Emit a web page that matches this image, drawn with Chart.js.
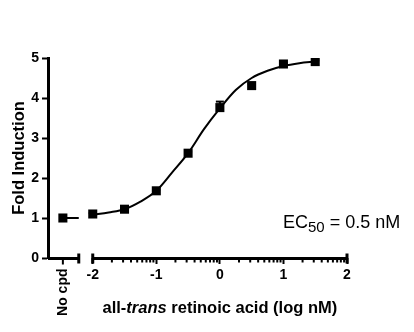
<!DOCTYPE html>
<html>
<head>
<meta charset="utf-8">
<script src="https://cdn.jsdelivr.net/npm/chart.js@4"></script>
<style>
  body { margin: 0; background: #fff; }
  canvas { display: block; }
</style>
</head>
<body>
<canvas id="doseChart" width="414" height="332"></canvas>
<script>
// measured points (log nM vs fold induction)
const concLog = [-2, -1.5, -1, -0.5, 0, 0.5, 1, 1.5];
const foldInduction = [1.1, 1.22, 1.68, 2.62, 3.76, 4.31, 4.85, 4.91];
const foldError = [0.02, 0.03, 0.03, 0.04, 0.15, 0.05, 0.03, 0.03];

// "No cpd" control, drawn left of the axis break
const noCpdX = [-2.47, -2.22];
const noCpdValue = [1.0, 1.0];

// fitted curve
const fitLog = [-2, -1.75, -1.5, -1.25, -1, -0.75, -0.5, -0.25, 0, 0.25, 0.5, 0.75, 1, 1.25, 1.5];
const fitValue = [1.08, 1.14, 1.22, 1.41, 1.68, 2.14, 2.62, 3.22, 3.74, 4.2, 4.5, 4.68, 4.8, 4.87, 4.91];

const xTicks = [-2, -1, 0, 1, 2];
const yTicks = [0, 1, 2, 3, 4, 5];
const breakEnd = -2.22;

const FONT = "'Liberation Sans', Arial, sans-serif";

function toPoints(xs, ys) {
  return xs.map((v, i) => ({ x: v, y: ys[i] }));
}

function strokeLine(ctx, x1, y1, x2, y2) {
  ctx.beginPath();
  ctx.moveTo(x1, y1);
  ctx.lineTo(x2, y2);
  ctx.stroke();
}

// broken x axis, minor ticks, error bars and all the titles
const axisDecor = {
  id: 'axisDecor',
  afterDraw(chart) {
    const { ctx, scales: { x, y } } = chart;
    const base = y.getPixelForValue(0) + 0.5;
    ctx.save();
    ctx.strokeStyle = '#000';
    ctx.fillStyle = '#000';

    // axis segments
    ctx.lineWidth = 3;
    strokeLine(ctx, x.left, base, x.getPixelForValue(breakEnd), base);
    strokeLine(ctx, x.getPixelForValue(-2), base, x.getPixelForValue(2), base);
    [breakEnd, -2, 2].forEach(v => {
      const p = x.getPixelForValue(v);
      strokeLine(ctx, p, base - 5, p, base + 5);
    });

    // log minor ticks
    ctx.lineWidth = 2;
    for (let d = -2; d < 2; d++) {
      for (let k = 2; k <= 9; k++) {
        const p = x.getPixelForValue(d + Math.log10(k));
        strokeLine(ctx, p, base, p, base + 4);
      }
    }

    // no cpd tick + label
    const nx = x.getPixelForValue(noCpdX[0]);
    strokeLine(ctx, nx, base, nx, base + 6);
    ctx.save();
    ctx.translate(nx, base + 10);
    ctx.rotate(-Math.PI / 2);
    ctx.font = 'bold 14px ' + FONT;
    ctx.textAlign = 'right';
    ctx.textBaseline = 'middle';
    ctx.fillText('No cpd', 0, 0);
    ctx.restore();

    // error bars
    ctx.lineWidth = 2;
    concLog.forEach((v, i) => {
      const px = x.getPixelForValue(v);
      const top = y.getPixelForValue(foldInduction[i] + foldError[i]);
      const mid = y.getPixelForValue(foldInduction[i]);
      strokeLine(ctx, px, mid, px, top);
      strokeLine(ctx, px - 4, top, px + 4, top);
    });

    // y title
    ctx.save();
    ctx.translate(19, (y.top + y.bottom) / 2);
    ctx.rotate(-Math.PI / 2);
    ctx.font = 'bold 16.5px ' + FONT;
    ctx.textAlign = 'center';
    ctx.textBaseline = 'middle';
    ctx.fillText('Fold Induction', 0, 0);
    ctx.restore();

    // x title with italic "trans"
    const parts = [
      ['all-', 'bold 16.5px ' + FONT],
      ['trans', 'italic bold 16.5px ' + FONT],
      [' retinoic acid (log nM)', 'bold 16.5px ' + FONT],
    ];
    let total = 0;
    parts.forEach(([t, f]) => { ctx.font = f; total += ctx.measureText(t).width; });
    let tx = x.getPixelForValue(0) - total / 2;
    ctx.textAlign = 'left';
    ctx.textBaseline = 'alphabetic';
    parts.forEach(([t, f]) => {
      ctx.font = f;
      ctx.fillText(t, tx, 313);
      tx += ctx.measureText(t).width;
    });

    // EC50 note
    let ex = 283;
    ctx.font = '18px ' + FONT;
    ctx.fillText('EC', ex, 228);
    ex += ctx.measureText('EC').width;
    ctx.font = '15px ' + FONT;
    ctx.fillText('50', ex, 231.5);
    ex += ctx.measureText('50').width;
    ctx.font = '18px ' + FONT;
    ctx.fillText(' = 0.5 nM', ex, 228);

    ctx.restore();
  }
};

new Chart(document.getElementById('doseChart'), {
  type: 'scatter',
  data: {
    datasets: [
      {
        type: 'line',
        data: toPoints(fitLog, fitValue),
        borderColor: '#000',
        borderWidth: 2,
        pointRadius: 0,
        cubicInterpolationMode: 'monotone',
        fill: false,
      },
      {
        type: 'line',
        data: toPoints(noCpdX, noCpdValue),
        borderColor: '#000',
        borderWidth: 2,
        pointRadius: [6.4, 0],
        pointStyle: 'rect',
        pointBackgroundColor: '#000',
        pointBorderWidth: 0,
        fill: false,
      },
      {
        data: toPoints(concLog, foldInduction),
        pointStyle: 'rect',
        pointRadius: 6.4,
        pointBackgroundColor: '#000',
        pointBorderWidth: 0,
      },
    ],
  },
  options: {
    responsive: false,
    animation: false,
    layout: { padding: { top: 58, right: 67, left: 0, bottom: 0 } },
    plugins: { legend: { display: false }, tooltip: { enabled: false } },
    scales: {
      x: {
        type: 'linear',
        min: -2.704,
        max: 2,
        afterBuildTicks: (scale) => { scale.ticks = xTicks.map(v => ({ value: v })); },
        afterFit: (scale) => { scale.height = 74; },
        border: { display: false },
        grid: { drawOnChartArea: false, tickLength: 6, tickWidth: 2, tickColor: '#000' },
        ticks: { color: '#000', padding: 3, maxRotation: 0, font: { family: FONT, size: 14, weight: 'bold' } },
      },
      y: {
        min: 0,
        max: 5,
        afterBuildTicks: (scale) => { scale.ticks = yTicks.map(v => ({ value: v })); },
        afterFit: (scale) => { scale.width = 48; },
        border: { display: true, color: '#000', width: 3 },
        grid: { drawOnChartArea: false, tickLength: 6, tickWidth: 2, tickColor: '#000' },
        ticks: { color: '#000', padding: 3, font: { family: FONT, size: 14, weight: 'bold' } },
      },
    },
  },
  plugins: [axisDecor],
});
</script>
</body>
</html>
